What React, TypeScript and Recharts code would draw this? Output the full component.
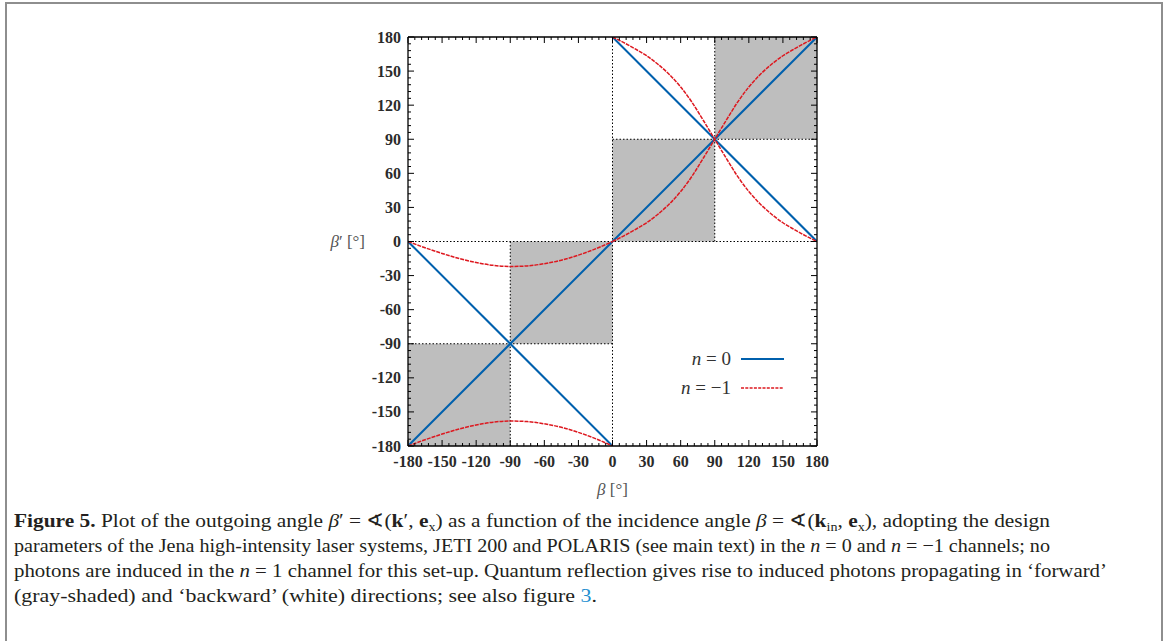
import React from 'react';
import { LineChart, Line, XAxis, YAxis, ReferenceArea, ReferenceLine, Legend } from 'recharts';

const BLUE = '#0060ad';
const RED = '#dd181f';
const SHADE = '#bebebe';

// n = 0 channel
const n0DiagBeta = [-180, 180];
const n0DiagVal = [-180, 180];
const n0NegBeta = [-180, 0];
const n0NegVal = [0, -180];
const n0PosBeta = [0, 180];
const n0PosVal = [180, 0];

// n = -1 channel, beta >= 0
const nm1PosBeta = [0, 10, 20, 30, 40, 50, 60, 70, 80, 90, 100, 110, 120, 130, 140, 150, 160, 170, 180];
const nm1PosForward = [0, 5, 10.5, 16.5, 24, 33, 44, 57.5, 73.5, 90, 106.5, 122.5, 136, 147, 156, 163.5, 169.5, 175, 180];
const nm1PosBackward = [180, 175, 169.5, 163.5, 156, 147, 136, 122.5, 106.5, 90, 73.5, 57.5, 44, 33, 24, 16.5, 10.5, 5, 0];

// n = -1 channel, beta <= 0
const nm1NegBeta = [-180, -165, -150, -135, -120, -105, -90, -75, -60, -45, -30, -15, 0];
const nm1NegUpper = [0, -5.5, -10.5, -15, -18.5, -21, -22, -21.5, -19.5, -16.5, -12, -6.5, 0];
const nm1NegLower = [-180, -174.5, -169.5, -165, -161.5, -159, -158, -158.5, -160.5, -163.5, -168, -173.5, -180];

// shaded ("forward") squares
const shadeFrom = [-180, -90, 0, 90];
const shadeTo = [-90, 0, 90, 180];

// tick values
const majorTicks = [-180, -150, -120, -90, -60, -30, 0, 30, 60, 90, 120, 150, 180];
const allTicks = Array.from({ length: 61 }, (_, i) => -180 + 6 * i);

const legendNames = ['0', '\u22121'];

const toPts = (xs: number[], ys: number[]) => xs.map((x, i) => ({ x, y: ys[i] }));

const FONT = '"Liberation Serif", "DejaVu Serif", serif';
const TICK_COLOR = '#2b2b2b';

const isMajor = (v: number) => majorTicks.indexOf(v) >= 0;

const BottomTick = (p: any) => {
  const { x, y, payload } = p;
  const m = isMajor(payload.value);
  return (
    <g>
      <line x1={x} x2={x} y1={y} y2={y - (m ? 6 : 3)} stroke="#000" strokeWidth={1} />
      {m && (
        <text x={x} y={y + 21} textAnchor="middle" fontFamily={FONT} fontSize={16} fontWeight="bold" fill={TICK_COLOR}>
          {payload.value}
        </text>
      )}
    </g>
  );
};

const TopTick = (p: any) => {
  const { x, y, payload } = p;
  const m = isMajor(payload.value);
  return <line x1={x} x2={x} y1={y} y2={y + (m ? 6 : 3)} stroke="#000" strokeWidth={1} />;
};

const LeftTick = (p: any) => {
  const { x, y, payload } = p;
  const m = isMajor(payload.value);
  return (
    <g>
      <line x1={x} x2={x + (m ? 6 : 3)} y1={y} y2={y} stroke="#000" strokeWidth={1} />
      {m && (
        <text x={x - 7} y={y + 5.5} textAnchor="end" fontFamily={FONT} fontSize={16} fontWeight="bold" fill={TICK_COLOR}>
          {payload.value}
        </text>
      )}
    </g>
  );
};

const RightTick = (p: any) => {
  const { x, y, payload } = p;
  const m = isMajor(payload.value);
  return <line x1={x} x2={x - (m ? 6 : 3)} y1={y} y2={y} stroke="#000" strokeWidth={1} />;
};

const LegendBox = () => (
  <svg width={130} height={64} style={{ display: 'block', overflow: 'visible' }}>
    <text x={51} y={25} textAnchor="end" fontFamily={FONT} fontSize={19} fill="#333">
      <tspan fontStyle="italic">n</tspan>
      <tspan>{' = ' + legendNames[0]}</tspan>
    </text>
    <line x1={61} x2={104} y1={19} y2={19} stroke={BLUE} strokeWidth={2} />
    <text x={51} y={54} textAnchor="end" fontFamily={FONT} fontSize={19} fill="#333">
      <tspan fontStyle="italic">n</tspan>
      <tspan>{' = ' + legendNames[1]}</tspan>
    </text>
    <line x1={61} x2={104} y1={48} y2={48} stroke={RED} strokeWidth={1.5} strokeDasharray="3 1.3" />
  </svg>
);

const XTitle = (p: any) => {
  const vb = p.viewBox || {};
  return (
    <text x={vb.x + vb.width / 2} y={vb.y + 49} textAnchor="middle" fontFamily={FONT} fontSize={17} fill="#555">
      <tspan fontStyle="italic">β</tspan>
      <tspan>{' [°]'}</tspan>
    </text>
  );
};

const YTitle = (p: any) => {
  const vb = p.viewBox || {};
  return (
    <text x={vb.x + vb.width - 43} y={vb.y + vb.height / 2 + 5} textAnchor="end" fontFamily={FONT} fontSize={17} fill="#555">
      <tspan fontStyle="italic">β</tspan>
      <tspan>{'′ [°]'}</tspan>
    </text>
  );
};

const CAP = '#231f20';
const SUB = { fontSize: 12.5 };

export default function App() {
  const dotted = { stroke: '#000', strokeWidth: 1, strokeDasharray: '1.5 2' };
  return (
    <div style={{ position: 'absolute', left: 0, top: 0, width: 1168, height: 641, overflow: 'hidden', background: '#fff' }}>
      <div style={{ position: 'absolute', left: 5, top: 2, width: 1154, height: 700, border: '2px solid #8e8e8e' }} />
      <div style={{ position: 'absolute', left: 0, top: 0 }}>
        <LineChart width={1168} height={510} margin={{ top: 36, right: 350, bottom: 24, left: 358 }}>
          {shadeFrom.map((a, i) => (
            <ReferenceArea
              key={'sh' + i}
              xAxisId="b"
              yAxisId="l"
              x1={a}
              x2={shadeTo[i]}
              y1={a}
              y2={shadeTo[i]}
              fill={SHADE}
              fillOpacity={1}
              stroke="none"
              ifOverflow="visible"
            />
          ))}
          <ReferenceLine xAxisId="b" yAxisId="l" y={0} {...dotted} />
          <ReferenceLine xAxisId="b" yAxisId="l" x={0} {...dotted} />
          <ReferenceLine xAxisId="b" yAxisId="l" segment={[{ x: 0, y: 90 }, { x: 180, y: 90 }]} {...dotted} />
          <ReferenceLine xAxisId="b" yAxisId="l" segment={[{ x: 90, y: 0 }, { x: 90, y: 180 }]} {...dotted} />
          <ReferenceLine xAxisId="b" yAxisId="l" segment={[{ x: -180, y: -90 }, { x: 0, y: -90 }]} {...dotted} />
          <ReferenceLine xAxisId="b" yAxisId="l" segment={[{ x: -90, y: -180 }, { x: -90, y: 0 }]} {...dotted} />

          <Line xAxisId="b" yAxisId="l" data={toPts(n0DiagBeta, n0DiagVal)} dataKey="y" type="linear" stroke={BLUE} strokeWidth={2} dot={false} isAnimationActive={false} />
          <Line xAxisId="b" yAxisId="l" data={toPts(n0NegBeta, n0NegVal)} dataKey="y" type="linear" stroke={BLUE} strokeWidth={2} dot={false} isAnimationActive={false} />
          <Line xAxisId="b" yAxisId="l" data={toPts(n0PosBeta, n0PosVal)} dataKey="y" type="linear" stroke={BLUE} strokeWidth={2} dot={false} isAnimationActive={false} />

          <Line xAxisId="b" yAxisId="l" data={toPts(nm1PosBeta, nm1PosForward)} dataKey="y" type="monotone" stroke={RED} strokeWidth={1.5} strokeDasharray="4 1" dot={false} isAnimationActive={false} />
          <Line xAxisId="b" yAxisId="l" data={toPts(nm1PosBeta, nm1PosBackward)} dataKey="y" type="monotone" stroke={RED} strokeWidth={1.5} strokeDasharray="4 1" dot={false} isAnimationActive={false} />
          <Line xAxisId="b" yAxisId="l" data={toPts(nm1NegBeta, nm1NegUpper)} dataKey="y" type="monotone" stroke={RED} strokeWidth={1.5} strokeDasharray="4 1" dot={false} isAnimationActive={false} />
          <Line xAxisId="b" yAxisId="l" data={toPts(nm1NegBeta, nm1NegLower)} dataKey="y" type="monotone" stroke={RED} strokeWidth={1.5} strokeDasharray="4 1" dot={false} isAnimationActive={false} />

          <XAxis
            xAxisId="b"
            orientation="bottom"
            dataKey="x"
            type="number"
            domain={[-180, 180]}
            allowDataOverflow
            ticks={allTicks}
            interval={0}
            height={40}
            tickSize={0}
            tickMargin={0}
            tickLine={false}
            tick={<BottomTick />}
            axisLine={{ stroke: '#000', strokeWidth: 1.3 }}
            label={{ content: XTitle }}
          />
          <XAxis
            xAxisId="t"
            orientation="top"
            dataKey="x"
            type="number"
            domain={[-180, 180]}
            allowDataOverflow
            ticks={allTicks}
            interval={0}
            height={1}
            tickSize={0}
            tickMargin={0}
            tickLine={false}
            tick={<TopTick />}
            axisLine={{ stroke: '#000', strokeWidth: 1.3 }}
          />
          <YAxis
            yAxisId="l"
            orientation="left"
            type="number"
            domain={[-180, 180]}
            allowDataOverflow
            ticks={allTicks}
            interval={0}
            width={50}
            tickSize={0}
            tickMargin={0}
            tickLine={false}
            tick={<LeftTick />}
            axisLine={{ stroke: '#000', strokeWidth: 1.3 }}
            label={{ content: YTitle }}
          />
          <YAxis
            yAxisId="r"
            orientation="right"
            type="number"
            domain={[-180, 180]}
            allowDataOverflow
            ticks={allTicks}
            interval={0}
            width={1}
            tickSize={0}
            tickMargin={0}
            tickLine={false}
            tick={<RightTick />}
            axisLine={{ stroke: '#000', strokeWidth: 1.3 }}
          />
          <Legend
            layout="horizontal"
            verticalAlign="middle"
            align="center"
            content={LegendBox}
            wrapperStyle={{ left: 680, top: 340, width: 130, height: 64, bottom: 'auto', right: 'auto' }}
          />
        </LineChart>
      </div>
      <svg width={1168} height={641} style={{ position: 'absolute', left: 0, top: 0, pointerEvents: 'none' }}>
        <g fontFamily={FONT} fontSize={19} fill={CAP}>
          <text x={14} y={527} textLength={1036} lengthAdjust="spacingAndGlyphs">
            <tspan fontWeight="bold">Figure 5.</tspan>
            <tspan>{' Plot of the outgoing angle '}</tspan>
            <tspan fontStyle="italic">β</tspan>
            <tspan>{'′ = ∢('}</tspan>
            <tspan fontWeight="bold">k</tspan>
            <tspan>{'′, '}</tspan>
            <tspan fontWeight="bold">e</tspan>
            <tspan {...SUB} dy={4}>x</tspan>
            <tspan dy={-4}>{') as a function of the incidence angle '}</tspan>
            <tspan fontStyle="italic">β</tspan>
            <tspan>{' = ∢('}</tspan>
            <tspan fontWeight="bold">k</tspan>
            <tspan {...SUB} dy={4}>in</tspan>
            <tspan dy={-4}>{', '}</tspan>
            <tspan fontWeight="bold">e</tspan>
            <tspan {...SUB} dy={4}>x</tspan>
            <tspan dy={-4}>{'), adopting the design'}</tspan>
          </text>
          <text x={14} y={552} textLength={1036} lengthAdjust="spacingAndGlyphs">
            <tspan>{'parameters of the Jena high-intensity laser systems, JETI 200 and POLARIS (see main text) in the '}</tspan>
            <tspan fontStyle="italic">n</tspan>
            <tspan>{' = 0 and '}</tspan>
            <tspan fontStyle="italic">n</tspan>
            <tspan>{' = −1 channels; no'}</tspan>
          </text>
          <text x={14} y={577} textLength={1093} lengthAdjust="spacingAndGlyphs">
            <tspan>{'photons are induced in the '}</tspan>
            <tspan fontStyle="italic">n</tspan>
            <tspan>{' = 1 channel for this set-up. Quantum reflection gives rise to induced photons propagating in ‘forward’'}</tspan>
          </text>
          <text x={14} y={602} textLength={583} lengthAdjust="spacingAndGlyphs">
            <tspan>{'(gray-shaded) and ‘backward’ (white) directions; see also figure '}</tspan>
            <tspan fill="#1f8fd0">3</tspan>
            <tspan>.</tspan>
          </text>
        </g>
      </svg>
    </div>
  );
}
